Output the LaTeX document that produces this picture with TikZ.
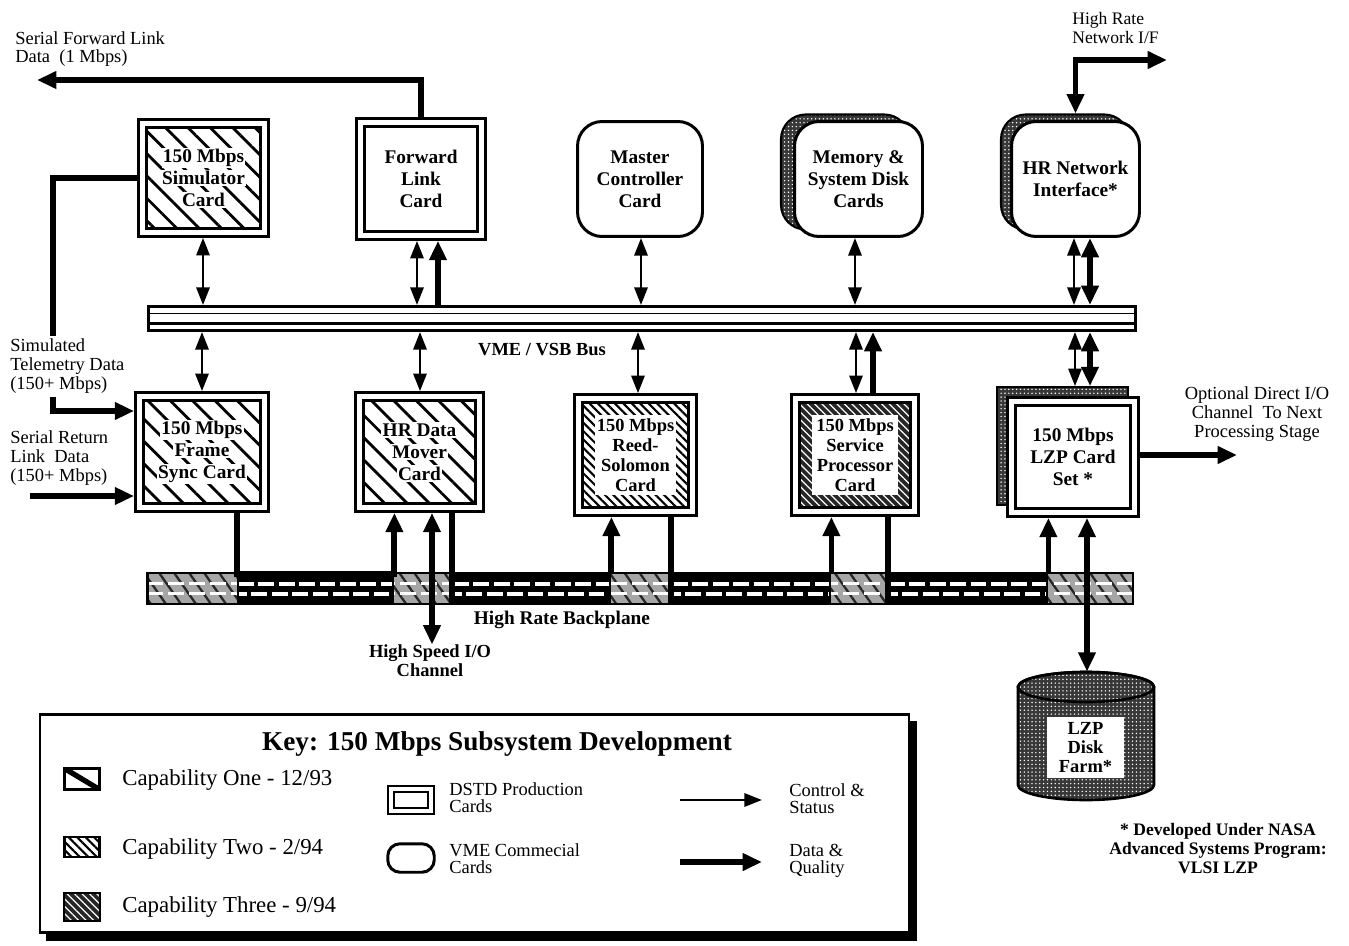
\documentclass[tikz,border=0pt]{standalone}
\usepackage{fontspec}
\setmainfont{Liberation Serif}
\usetikzlibrary{arrows.meta,patterns.meta,calc}
\setlength{\fboxsep}{0.8pt}
\newcommand\wb[1]{\colorbox{white}{#1}}
\newcommand\vlink[4]{\coordinate (vl) at (#2,0); \draw[#1] (vl |- #3) -- (vl |- #4);}
\tikzset{
  base/.style={font=\bfseries\fontsize{11}{12.5}\selectfont, align=center, inner sep=0pt},
  dstd/.style={base, draw, line width=1.9pt, double=white, double distance=2.6pt, outer sep=3.2pt},
  vme/.style={base, draw, line width=1.7pt, rounded corners=14pt, fill=white},
  shad/.style={draw, line width=1.2pt, rounded corners=14pt, stip},
  capone/.style={preaction={fill=white}, pattern={Lines[angle=-45,distance=9pt,line width=1.6pt]}, pattern color=black},
  captwo/.style={preaction={fill=white}, pattern={Lines[angle=-45,distance=3.4pt,line width=1.2pt]}, pattern color=black},
  capthree/.style={preaction={fill=black!85}, pattern={Lines[angle=-45,distance=3pt,line width=0.7pt]}, pattern color=white},
  stip/.style={preaction={fill=black!78}, pattern={Dots[radius=0.45pt,distance=2.2pt]}, pattern color=white},
  inset/.style={path picture={\fill[white] ([xshift=9pt,yshift=9pt]path picture bounding box.south west) rectangle ([xshift=-9pt,yshift=-9pt]path picture bounding box.north east);}},
  ctl/.style={line width=1.4pt, >={Triangle[length=10pt,width=7.5pt]}},
  dat/.style={line width=3.3pt, >={Triangle[length=11pt,width=9.5pt]}},
  lbl/.style={font=\fontsize{10.5}{10.6}\selectfont, align=left, inner sep=0pt},
  blbl/.style={font=\bfseries\fontsize{10.5}{11}\selectfont, align=center, inner sep=0pt},
  ktxt/.style={font=\fontsize{13}{15}\selectfont, inner sep=0pt, anchor=west},
  ktxtb/.style={font=\fontsize{10.5}{9.8}\selectfont, align=left, inner sep=0pt, anchor=west},
  lane/.style={draw, line width=1.6pt, fill=black, inner sep=0pt, minimum height=0.56cm,
    path picture={\draw[white, line width=2pt, dash pattern=on 9pt off 2.6pt] ([yshift=0.1cm]path picture bounding box.west) -- ([yshift=0.1cm]path picture bounding box.east);
                  \draw[white, line width=2pt, dash pattern=on 9pt off 2.6pt, dash phase=4pt] ([yshift=-0.1cm]path picture bounding box.west) -- ([yshift=-0.1cm]path picture bounding box.east);}},
}
\begin{document}
\begin{tikzpicture}[x=0.02cm,y=-0.02cm]
\useasboundingbox (0,0) rectangle (1349,946);
\fill[white] (0,0) rectangle (1349,946);

% ---------- VME/VSB bus ----------
\node[draw, line width=1.7pt, fill=white, inner sep=0pt, minimum width=19.74cm, minimum height=0.48cm,
  path picture={\draw[line width=0.8pt] ([yshift=0.1cm]path picture bounding box.west) -- ([yshift=0.1cm]path picture bounding box.east);
                \draw[line width=1.2pt] ([yshift=-0.1cm]path picture bounding box.west) -- ([yshift=-0.1cm]path picture bounding box.east);}]
  (bus) at (642,318.5) {};
\node[blbl] (buslbl) at (542,350) {VME / VSB Bus};

% ---------- top row ----------
\node[dstd, capone, minimum width=2.43cm, minimum height=2.17cm] (sim) at (203.5,178) {\wb{150 Mbps}\\\wb{Simulator}\\\wb{Card}};
\node[dstd, fill=white, minimum width=2.41cm, minimum height=2.25cm] (fwd) at (421,179) {Forward\\Link\\Card};
\node[vme, minimum width=2.5cm, minimum height=2.3cm] (master) at (640,179) {Master\\Controller\\Card};
\node[shad, minimum width=2.56cm, minimum height=2.3cm] (memb) at (845,172) {};
\node[vme, minimum width=2.56cm, minimum height=2.3cm] (mem) at (858.5,179) {Memory \&\\System Disk\\Cards};
\node[shad, minimum width=2.56cm, minimum height=2.3cm] (hrnib) at (1065,172) {};
\node[vme, minimum width=2.56cm, minimum height=2.3cm] (hrni) at (1075.5,179) {HR Network\\Interface*};

% ---------- bottom row ----------
\node[dstd, capone, minimum width=2.49cm, minimum height=2.21cm] (fs) at (202,452) {\wb{150 Mbps}\\\wb{Frame}\\\wb{Sync Card}};
\node[dstd, capone, minimum width=2.39cm, minimum height=2.21cm] (hrdm) at (419.5,452) {\wb{HR Data}\\\wb{Mover}\\\wb{Card}};
\node[dstd, captwo, inset, font=\bfseries\fontsize{10.5}{11.3}\selectfont, minimum width=2.27cm, minimum height=2.25cm] (rs) at (635.5,455) {\wb{150 Mbps}\\\wb{Reed-}\\\wb{Solomon}\\\wb{Card}};
\node[dstd, capthree, inset, font=\bfseries\fontsize{10.5}{11.3}\selectfont, minimum width=2.37cm, minimum height=2.25cm] (sp) at (855,455) {\wb{150 Mbps}\\\wb{Service}\\\wb{Processor}\\\wb{Card}};
\node[draw, line width=1pt, stip, inner sep=0pt, minimum width=2.62cm, minimum height=2.36cm] (lzpb) at (1062.5,446) {};
\node[dstd, fill=white, minimum width=2.45cm, minimum height=2.21cm] (lzp) at (1073,457) {150 Mbps\\LZP Card\\Set *};

% ---------- bus links ----------
\vlink{ctl,<->}{203}{sim.south}{bus.north}
\vlink{ctl,<->}{417}{fwd.south}{bus.north}
\vlink{dat,<-}{438}{fwd.south}{bus.north}
\vlink{ctl,<->}{641}{master.south}{bus.north}
\vlink{ctl,<->}{855}{mem.south}{bus.north}
\vlink{ctl,<->}{1074}{hrni.south}{bus.north}
\vlink{dat,<->}{1090}{hrni.south}{bus.north}
\vlink{ctl,<->}{202}{bus.south}{fs.north}
\vlink{ctl,<->}{420}{bus.south}{hrdm.north}
\vlink{ctl,<->}{638}{bus.south}{rs.north}
\vlink{ctl,<->}{856}{bus.south}{sp.north}
\vlink{dat,->}{873}{sp.north}{bus.south}
\vlink{ctl,<->}{1075}{bus.south}{lzpb.north}
\vlink{dat,<->}{1090}{bus.south}{lzpb.north}

% ---------- external data paths ----------
\coordinate (fwdout) at (37,80);
\draw[dat,->] (fwd.north) |- (fwdout);
\node[lbl, anchor=west] (fwdlbl) at (15,49) {Serial Forward Link\\Data\ \ (1 Mbps)};

\coordinate (simbend) at (53,411);
\draw[dat,->] (sim.west) -| (simbend) -- (simbend -| fs.west);
\node[lbl, anchor=west, fill=white, inner ysep=2pt] (simlbl) at (10,366) {Simulated\\Telemetry Data\\(150+ Mbps)};

\coordinate (srin) at (30,496);
\draw[dat,->] (srin) -- (srin -| fs.west);
\node[lbl, anchor=west] (srlbl) at (10,458) {Serial Return\\Link\ \ Data\\(150+ Mbps)};

\coordinate (hrnout) at (1167,60);
\draw[dat,<->] (hrnout) -| (hrni.north |- hrnib.north);
\node[lbl, anchor=west, font=\fontsize{10}{10.5}\selectfont] (hrnlbl) at (1072,28) {High Rate\\Network I/F};

\coordinate (optout) at (1237,455);
\draw[dat,->] (optout -| lzp.east) -- (optout);
\node[lbl, align=center] (optlbl) at (1257,414) {Optional Direct I/O\\Channel\ \ To Next\\Processing Stage};

% ---------- high rate backplane ----------
\node[draw, line width=1.6pt, inner sep=0pt, minimum width=19.72cm, minimum height=0.62cm,
  preaction={fill=black!35}, pattern={Lines[angle=-55,distance=7pt,line width=1.3pt]}, pattern color=black!85,
  path picture={\draw[white, line width=1.6pt, dash pattern=on 9pt off 3pt] ([yshift=0.1cm]path picture bounding box.west) -- ([yshift=0.1cm]path picture bounding box.east);
                \draw[white, line width=1.6pt, dash pattern=on 9pt off 3pt] ([yshift=-0.1cm]path picture bounding box.west) -- ([yshift=-0.1cm]path picture bounding box.east);}]
  (bp) at (640,588.5) {};
\node[lane, minimum width=3.1cm] (lane1) at (315.5,589) {};
\node[lane, minimum width=3.14cm] (lane2) at (531.5,589) {};
\node[lane, minimum width=3.16cm] (lane3) at (751,589) {};
\node[lane, minimum width=3.16cm] (lane4) at (968,589) {};
\node[blbl, font=\bfseries\fontsize{11}{12}\selectfont] (bplbl) at (562,620) {High Rate Backplane};

\draw[dat,->] (lane1.north west |- fs.south) -- (lane1.north west) -- (lane1.north east) -- (lane1.north east |- hrdm.south);
\draw[dat] (lane2.south west |- hrdm.south) -- (lane2.south west);
\draw[dat,->] (lane2.north east) -- (lane2.north east |- rs.south);
\draw[dat] (lane3.south west |- rs.south) -- (lane3.south west);
\draw[dat,->] (lane3.north east) -- (lane3.north east |- sp.south);
\draw[dat] (lane4.south west |- sp.south) -- (lane4.south west);
\draw[dat,->] (lane4.north east) -- (lane4.north east |- lzp.south);

\node[blbl] (hsio) at (430,661) {High Speed I/O\\Channel};
\vlink{dat,<->}{432}{hrdm.south}{hsio.north}

% ---------- LZP disk farm ----------
\node[inner sep=0pt, minimum width=2.72cm, minimum height=2.56cm] (disk) at (1086,736) {};
\path[draw, line width=1.5pt, stip] (1018,687) -- (1018,785) arc[start angle=180, end angle=360, x radius=1.36cm, y radius=0.3cm] -- (1154,687) arc[start angle=0, end angle=180, x radius=1.36cm, y radius=0.3cm] -- cycle;
\draw[line width=1.5pt] (1086,687) ellipse[x radius=1.36cm, y radius=0.3cm];
\node[fill=white, base, font=\bfseries\fontsize{10.5}{11}\selectfont, minimum width=1.54cm, minimum height=1.22cm] (diskl) at (1085.5,747.5) {LZP\\Disk\\Farm*};
\vlink{dat,<->}{1087}{lzp.south}{disk.north}

\node[blbl, font=\bfseries\fontsize{10}{10.8}\selectfont] (note) at (1218,849) {* Developed Under NASA\\Advanced Systems Program:\\VLSI LZP};

% ---------- key ----------
\fill[black] (46,721) rectangle (917,941);
\node[draw, line width=1.6pt, fill=white, inner sep=0pt, minimum width=17.38cm, minimum height=4.36cm] (key) at (474.5,823.5) {};
\node[font=\bfseries\fontsize{15.5}{17}\selectfont, inner sep=0pt] (keyttl) at (497,744) {Key: 150 Mbps Subsystem Development};

\node[draw, line width=1.5pt, fill=white, inner sep=0pt, minimum width=0.7cm, minimum height=0.42cm,
  path picture={\draw[line width=3pt] (path picture bounding box.north west) -- (path picture bounding box.south east);}] (k1) at (82,779) {};
\node[draw, line width=1.5pt, captwo, inner sep=0pt, minimum width=0.7cm, minimum height=0.4cm] (k2) at (82,847) {};
\node[draw, line width=1pt, capthree, inner sep=0pt, minimum width=0.72cm, minimum height=0.56cm] (k3) at (82,907) {};
\node[ktxt] (t1) at (122,780) {Capability One - 12/93};
\node[ktxt] (t2) at (122,849) {Capability Two - 2/94};
\node[ktxt] (t3) at (122,907) {Capability Three - 9/94};

\node[draw, line width=1.5pt, double=white, double distance=1.8pt, inner sep=0pt, minimum width=0.8cm, minimum height=0.44cm] (kd) at (411,800) {};
\node[draw, line width=1.7pt, rounded corners=7pt, inner sep=0pt, minimum width=0.93cm, minimum height=0.57cm] (kv) at (411,858) {};
\node[ktxtb] (td) at (449,798) {DSTD Production\\Cards};
\node[ktxtb] (tv) at (449,859) {VME Commecial\\Cards};

\coordinate (kc1) at (680,800); \coordinate (kc2) at (762,800);
\draw[ctl,->] (kc1) -- (kc2);
\coordinate (kq1) at (680,862); \coordinate (kq2) at (762,862);
\draw[dat,->] (kq1) -- (kq2);
\node[ktxtb] (tc) at (789,799) {Control \&\\Status};
\node[ktxtb] (tq) at (789,861) {Data \&\\Quality};
\end{tikzpicture}
\end{document}
